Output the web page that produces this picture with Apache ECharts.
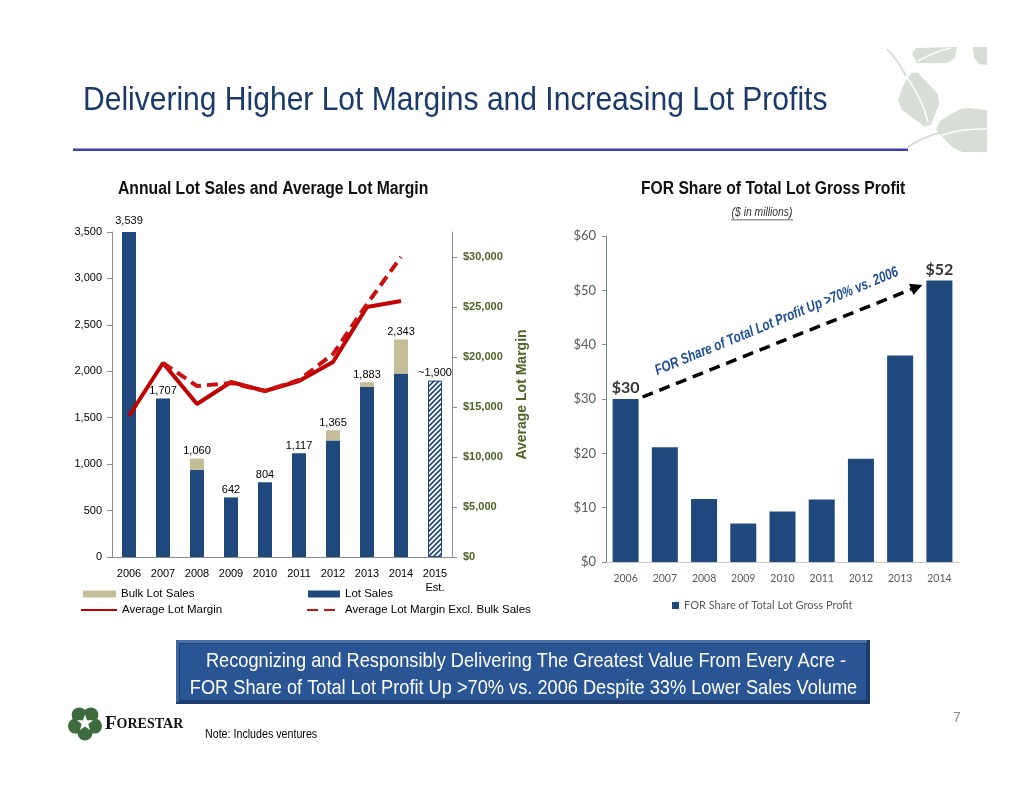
<!DOCTYPE html>
<html>
<head>
  <meta charset="utf-8">
  <title>Lot Margins and Lot Profits</title>
  <script src="https://cdn.jsdelivr.net/npm/echarts@6/dist/echarts.min.js"></script>
</head>
<style>
  * { padding: 0; margin: 0; }
  #main { width: 1034px; height: 799px; background: #fff; }
</style>
<body>
  <div id="main"></div>
  <script type="text/javascript">
    // chart data
    var years = ['2006', '2007', '2008', '2009', '2010', '2011', '2012', '2013', '2014', '2015'];
    var lotSales = [3539, 1707, 940, 642, 804, 1117, 1255, 1831, 1975, 1900];
    var bulkLotSales = [0, 0, 120, 0, 0, 0, 110, 52, 368, 0];
    var totalLabels = ['3,539', '1,707', '1,060', '642', '804', '1,117', '1,365', '1,883', '2,343', '~1,900'];
    var avgMargin = [14100, 19400, 15300, 17500, 16600, 17600, 19500, 25000, 25600, null];
    var avgMarginExBulk = [null, 19400, 17100, 17400, 16600, 17700, 20300, 25300, 30000, null];

    var profitYears = ['2006', '2007', '2008', '2009', '2010', '2011', '2012', '2013', '2014'];
    var forShare = [30.0, 21.1, 11.6, 7.1, 9.3, 11.5, 19.0, 38.0, 51.8];
    var profitLabels = ['$30', '', '', '', '', '', '', '', '$52'];

    var SANS = "'Liberation Sans', Arial, sans-serif";
    var CAL = "Lato, 'Open Sans', sans-serif";
    var BLUE = '#1f497d';

    // hatch pattern for the 2015 estimate
    var hatch = document.createElement('canvas');
    hatch.width = 5; hatch.height = 5;
    var hc = hatch.getContext('2d');
    hc.fillStyle = '#fff'; hc.fillRect(0, 0, 5, 5);
    hc.strokeStyle = BLUE; hc.lineWidth = 1.7;
    hc.beginPath();
    hc.moveTo(-1, 6); hc.lineTo(6, -1);
    hc.moveTo(-1, 1); hc.lineTo(1, -1);
    hc.moveTo(4, 6); hc.lineTo(6, 4);
    hc.stroke();

    var lotData = lotSales.map(function (v, i) {
      if (years[i] === '2015') {
        return { value: v, itemStyle: { color: { image: hatch, repeat: 'repeat' }, borderColor: BLUE, borderWidth: 1 } };
      }
      return v;
    });
    var profitData = forShare.map(function (v, i) {
      if (!profitLabels[i]) return v;
      return {
        value: v,
        label: { show: true, position: 'top', distance: 3, formatter: profitLabels[i],
          fontFamily: CAL, fontWeight: 'bold', fontSize: 16, color: '#333' }
      };
    });

    function comma(v) { return String(v).replace(/\B(?=(\d{3})+(?!\d))/g, ','); }

    var option = {
      animation: false,
      textStyle: { fontFamily: SANS },
      grid: [
        { left: 112, right: 582, top: 232, bottom: 242 },
        { left: 606, right: 75, top: 236, bottom: 237 }
      ],
      xAxis: [{
        type: 'category', gridIndex: 0, data: years,
        axisLine: { lineStyle: { color: '#8c8c8c' } },
        axisTick: { length: 5, lineStyle: { color: '#8c8c8c' } },
        axisLabel: { interval: 0, fontFamily: SANS, fontSize: 11, color: '#000', margin: 10, lineHeight: 14,
          formatter: function (v) { return v === '2015' ? '2015\nEst.' : v; } }
      }, {
        type: 'category', gridIndex: 1, data: profitYears,
        axisLine: { lineStyle: { color: '#c8c8c8' } },
        axisTick: { length: 5, lineStyle: { color: '#c8c8c8' } },
        axisLabel: { interval: 0, fontFamily: CAL, fontSize: 10.5, color: '#595959', margin: 11 }
      }],
      yAxis: [{
        type: 'value', gridIndex: 0, position: 'left', min: 0, max: 3500, interval: 500,
        splitLine: { show: false },
        axisLine: { show: true, lineStyle: { color: '#8c8c8c' } },
        axisTick: { show: true, length: 5, lineStyle: { color: '#8c8c8c' } },
        axisLabel: { fontFamily: SANS, fontSize: 11, color: '#000', margin: 10, formatter: comma }
      }, {
        type: 'value', gridIndex: 0, position: 'right', min: 0, max: 32500, interval: 5000,
        splitLine: { show: false },
        axisLine: { show: true, lineStyle: { color: '#8c8c8c' } },
        axisTick: { show: true, length: 5, lineStyle: { color: '#8c8c8c' } },
        axisLabel: { fontFamily: SANS, fontSize: 11, fontWeight: 'bold', color: '#4f6228', margin: 11,
          showMaxLabel: false, formatter: function (v) { return '$' + comma(v); } },
        name: 'Average Lot Margin', nameLocation: 'middle', nameRotate: 90, nameGap: 63,
        nameTextStyle: { fontFamily: SANS, fontSize: 14, fontWeight: 'bold', color: '#4f6228' }
      }, {
        type: 'value', gridIndex: 1, min: 0, max: 60, interval: 10,
        splitLine: { show: false },
        axisLine: { show: true, lineStyle: { color: '#6f8f6f' } },
        axisTick: { show: true, length: 4, lineStyle: { color: '#8c8c8c' } },
        axisLabel: { fontFamily: CAL, fontSize: 13, color: '#595959', margin: 10,
          formatter: function (v) { return '$' + v; } }
      }],
      legend: [
        { data: ['Bulk Lot Sales'], left: 83, top: 588, icon: 'rect', itemWidth: 33, itemHeight: 7, padding: 0,
          textStyle: { fontFamily: SANS, fontSize: 11.5, color: '#000' } },
        { data: ['Lot Sales'], left: 308, top: 588, icon: 'rect', itemWidth: 32, itemHeight: 7, padding: 0,
          textStyle: { fontFamily: SANS, fontSize: 11.5, color: '#000' } },
        { data: ['Average Lot Margin'], left: 80, top: 604, itemWidth: 36, itemHeight: 8, padding: 0,
          itemStyle: { opacity: 0 }, textStyle: { fontFamily: SANS, fontSize: 11.5, color: '#000' } },
        { data: ['Average Lot Margin Excl. Bulk Sales'], left: 306, top: 604, itemWidth: 33, itemHeight: 8, padding: 0,
          itemStyle: { opacity: 0 }, textStyle: { fontFamily: SANS, fontSize: 11.5, color: '#000' } },
        { data: ['FOR Share of Total Lot Gross Profit'], left: 672, top: 600, icon: 'rect', itemWidth: 7, itemHeight: 7,
          padding: 0, textStyle: { fontFamily: CAL, fontSize: 11, color: '#595959' } }
      ],
      series: [{
        name: 'Lot Sales', type: 'bar', xAxisIndex: 0, yAxisIndex: 0, stack: 'lots',
        barWidth: 14, itemStyle: { color: BLUE }, data: lotData
      }, {
        name: 'Bulk Lot Sales', type: 'bar', xAxisIndex: 0, yAxisIndex: 0, stack: 'lots',
        barWidth: 14, clip: false, itemStyle: { color: '#c4bd97' }, data: bulkLotSales,
        label: { show: true, position: 'top', distance: 2, fontFamily: SANS, fontSize: 11, color: '#000',
          formatter: function (p) { return totalLabels[p.dataIndex]; } }
      }, {
        name: 'Average Lot Margin', type: 'line', xAxisIndex: 0, yAxisIndex: 1,
        symbol: 'none', lineStyle: { color: '#c00000', width: 4 }, itemStyle: { color: '#c00000' },
        data: avgMargin, z: 5
      }, {
        name: 'Average Lot Margin Excl. Bulk Sales', type: 'line', xAxisIndex: 0, yAxisIndex: 1,
        symbol: 'none', lineStyle: { color: '#cc1010', width: 4, type: [11, 6] }, itemStyle: { color: '#cc1010' },
        data: avgMarginExBulk, z: 6
      }, {
        name: 'FOR Share of Total Lot Gross Profit', type: 'bar', xAxisIndex: 1, yAxisIndex: 2,
        barWidth: 26, itemStyle: { color: BLUE }, data: profitData
      }]
    };

    var myChart = echarts.init(document.getElementById('main'));
    myChart.setOption(option);

    // page decoration and annotations
    var leaf = '#d6ded6';
    function stem(x1, y1, cx, cy, x2, y2, color, w) {
      return { type: 'bezierCurve', shape: { x1: x1, y1: y1, cpx1: cx, cpy1: cy, x2: x2, y2: y2 },
        style: { fill: 'none', stroke: color, lineWidth: w } };
    }
    // no narrow face is installed, so graphic texts are squeezed horizontally
    function squeezed(x, y, text, font, fill, sx, align) {
      return { type: 'text', x: x, y: y, scaleX: sx,
        style: { text: text, font: font, fill: fill, align: align || 'left', verticalAlign: 'middle' } };
    }
    var elements = [
      { type: 'polygon', shape: { points: [[912, 54], [916, 48], [957, 47], [955, 58], [947, 63], [917, 63]] }, style: { fill: leaf } },
      { type: 'polygon', shape: { points: [[973, 47], [987, 47], [987, 65], [979, 64], [974, 58]] }, style: { fill: leaf } },
      { type: 'polygon', shape: { points: [[898, 100], [903, 86], [911, 73], [918, 73], [938, 94], [939, 104], [931, 125], [924, 126], [902, 110]] }, style: { fill: leaf } },
      { type: 'polygon', shape: { points: [[936, 130], [940, 121], [960, 109], [970, 108], [987, 110], [987, 152], [962, 152], [952, 147]] }, style: { fill: leaf } },
      stem(887, 49, 898, 60, 906, 76, leaf, 2),
      stem(906, 76, 922, 98, 928, 122, '#fff', 1.5),
      stem(918, 61, 934, 52, 951, 48, '#fff', 1.5),
      stem(908, 147, 940, 126, 987, 128, leaf, 2),
      stem(942, 135, 962, 128, 987, 129, '#fff', 1.5),

      squeezed(83, 100.5, 'Delivering Higher Lot Margins and Increasing Lot Profits', '33px ' + SANS, '#1b3a6a', 0.91),
      { type: 'rect', shape: { x: 73, y: 148.5, width: 835, height: 2.5 }, style: { fill: '#3c3cae' } },

      squeezed(118, 189, 'Annual Lot Sales and Average Lot Margin', 'bold 18px ' + SANS, '#111', 0.873),
      squeezed(641, 189, 'FOR Share of Total Lot Gross Profit', 'bold 18px ' + SANS, '#111', 0.87),
      squeezed(762, 213, '($ in millions)', 'italic 12px ' + SANS, '#333', 0.86, 'center'),
      { type: 'rect', shape: { x: 731, y: 219.5, width: 62, height: 0.8 }, style: { fill: '#333' } },

      { type: 'rect', shape: { x: 176, y: 640, width: 694, height: 64 }, style: { fill: '#1c3d6e' } },
      { type: 'rect', shape: { x: 176, y: 640, width: 691, height: 3 }, style: { fill: '#4a72aa' } },
      { type: 'rect', shape: { x: 176, y: 640, width: 3, height: 62 }, style: { fill: '#3d66a0' } },
      { type: 'rect', shape: { x: 180, y: 644, width: 686, height: 56 }, style: { fill: '#2a5594' } },
      squeezed(526, 661, 'Recognizing and Responsibly Delivering The Greatest Value From Every Acre -', '21px ' + SANS, '#fff', 0.867, 'center'),
      squeezed(523.5, 688, 'FOR Share of Total Lot Profit Up >70% vs. 2006 Despite 33% Lower Sales Volume', '21px ' + SANS, '#fff', 0.867, 'center'),

      { type: 'text', x: 105, y: 724, style: {
        text: '{a|F}{b|ORESTAR}', verticalAlign: 'middle',
        rich: { a: { fontFamily: "'Liberation Serif', serif", fontWeight: 'bold', fontSize: 19, fill: '#111' },
                b: { fontFamily: "'Liberation Serif', serif", fontWeight: 'bold', fontSize: 14, fill: '#111' } } } },
      squeezed(205, 735, 'Note: Includes ventures', '12px ' + SANS, '#000', 0.89),
      { type: 'text', x: 957, y: 718, style: { text: '7', font: '14px ' + SANS, fill: '#8a8a8a',
        align: 'center', verticalAlign: 'middle' } }
    ];

    // logo: five green leaves around a white star
    var lcx = 85, lcy = 723, starPts = [];
    for (var k = 0; k < 5; k++) {
      var a = -Math.PI / 2 + Math.PI / 5 + k * 2 * Math.PI / 5;
      elements.push({ type: 'circle', shape: { cx: lcx + Math.cos(a) * 10, cy: lcy + Math.sin(a) * 10, r: 7.5 },
        style: { fill: '#3d6b3d' } });
    }
    for (var k = 0; k < 10; k++) {
      var a2 = -Math.PI / 2 + k * Math.PI / 5, r2 = k % 2 ? 3.5 : 8.5;
      starPts.push([lcx + Math.cos(a2) * r2, lcy + Math.sin(a2) * r2]);
    }
    elements.push({ type: 'polygon', shape: { points: starPts }, style: { fill: '#fff' } });

    // dashed growth arrow between the 2006 and 2014 bars
    var p0 = myChart.convertToPixel({ seriesIndex: 4 }, [0, 30]);
    var p1 = myChart.convertToPixel({ seriesIndex: 4 }, [8, 51]);
    var x0 = p0[0] + 17, y0 = p0[1] - 2, x1 = p1[0] - 17, y1 = p1[1];
    var ang = Math.atan2(y0 - y1, x1 - x0);
    var ux = Math.cos(ang), uy = -Math.sin(ang);
    var hx = x1 - ux * 12, hy = y1 - uy * 12;
    elements.push({ type: 'line', shape: { x1: x0, y1: y0, x2: hx, y2: hy },
      style: { stroke: '#000', lineWidth: 3.5, lineDash: [11, 7] } });
    elements.push({ type: 'polygon', shape: { points: [[x1, y1], [hx - uy * 6, hy + ux * 6], [hx + uy * 6, hy - ux * 6]] },
      style: { fill: '#000' } });
    var mx = (x0 + x1) / 2 + uy * 21 + 2, my = (y0 + y1) / 2 - ux * 21;
    elements.push({ type: 'text', x: mx, y: my, rotation: ang + 0.01, scaleX: 0.78, style: {
      text: 'FOR Share of Total Lot Profit Up >70% vs. 2006', font: 'italic bold 15px ' + SANS,
      fill: '#1f4e96', align: 'center', verticalAlign: 'middle' } });

    myChart.setOption({ graphic: { elements: elements } });
  </script>
</body>
</html>
